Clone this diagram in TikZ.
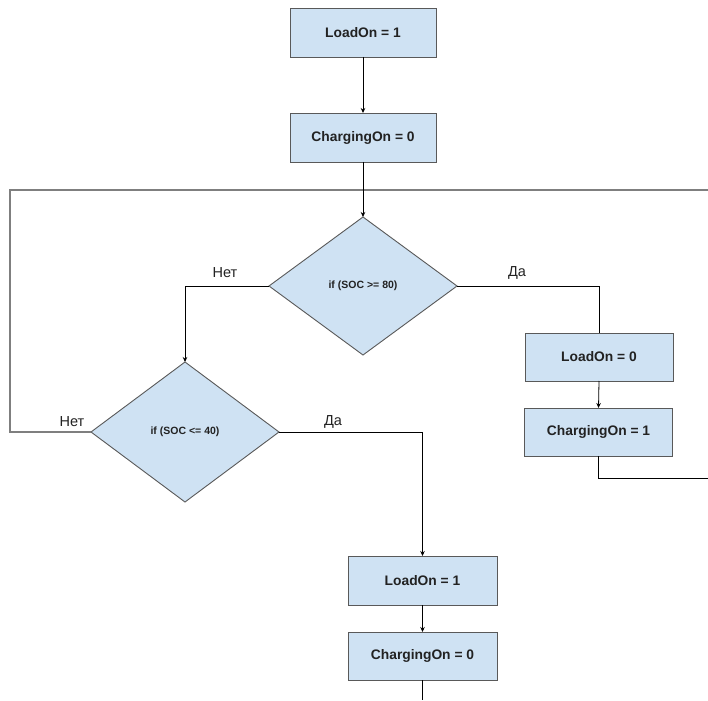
\documentclass[tikz,border=0pt]{standalone}
\usepackage{fontspec}
\setmainfont{Liberation Sans}
\usetikzlibrary{shapes.geometric,arrows.meta}
\definecolor{boxfill}{HTML}{CFE2F3}
\definecolor{boxline}{HTML}{595959}
\definecolor{loopgray}{HTML}{7F7F7F}
\definecolor{txt}{HTML}{222222}
\begin{document}
\begin{tikzpicture}[x=1pt,y=-1pt,
  boxnode/.style={draw=boxline,fill=boxfill,line width=0.9pt,rectangle,inner sep=0pt,outer sep=0pt,
    text=txt,font=\fontsize{13.8}{16}\selectfont\bfseries},
  decnode/.style={draw=boxline,fill=boxfill,line width=0.9pt,diamond,inner sep=0pt,outer sep=0pt,
    text=txt,font=\fontsize{10.5}{12}\selectfont\bfseries},
  link/.style={draw=black,line width=0.8pt},
  arr/.style={link,-{Stealth[length=5pt,width=4.5pt]}},
  loopline/.style={draw=loopgray,line width=1.3pt},
  lbl/.style={text=txt,font=\fontsize{14.5}{17}\selectfont,inner sep=0pt}]
\path[use as bounding box] (0,0) rectangle (708,700);
\fill[white] (0,0) rectangle (708,700);

\node[boxnode,minimum width=146pt,minimum height=49pt] (b1) at (363,32.5) {LoadOn = 1};
\node[boxnode,minimum width=146pt,minimum height=49pt] (b2) at (363,137.5) {ChargingOn = 0};
\node[decnode,minimum width=188pt,minimum height=138pt] (d1) at (363,286) {if (SOC >= 80)};
\node[decnode,minimum width=188pt,minimum height=140pt] (d2) at (185,432) {if (SOC <= 40)};
\node[boxnode,minimum width=148pt,minimum height=48pt] (b3) at (599,357) {LoadOn = 0};
\node[boxnode,minimum width=148pt,minimum height=48pt] (b4) at (598.5,432) {ChargingOn = 1};
\node[boxnode,minimum width=149pt,minimum height=49pt] (b5) at (422.5,580.5) {LoadOn = 1};
\node[boxnode,minimum width=149pt,minimum height=48pt] (b6) at (422.5,656) {ChargingOn = 0};

\coordinate (loopR) at (708,190);
\coordinate (loopL) at (10,190);
\coordinate (loopB) at (10,432);
\coordinate (outR) at (708,478);
\coordinate (outB) at (422.5,700);

% loop-back line
\draw[loopline] (loopR) -- (loopL) -- (loopB) -- (d2.west);

\draw[arr] (b1.south) -- (b2.north);
\draw[arr] (b2.south) -- (d1.north);
\draw[arr] (d1.west) -| (d2.north);
\draw[link] (d1.east) -| (b3.north);
\draw[arr] (b3.south) -- (b4.north);
\draw[link] (b4.south) |- (outR);
\draw[arr] (d2.east) -| (b5.north);
\draw[arr] (b5.south) -- (b6.north);
\draw[link] (b6.south) -- (outB);

\node[lbl] (l1) at (225,273) {Нет};
\node[lbl] (l2) at (517,273) {Да};
\node[lbl] (l3) at (72,422) {Нет};
\node[lbl] (l4) at (333,422) {Да};
\end{tikzpicture}
\end{document}
